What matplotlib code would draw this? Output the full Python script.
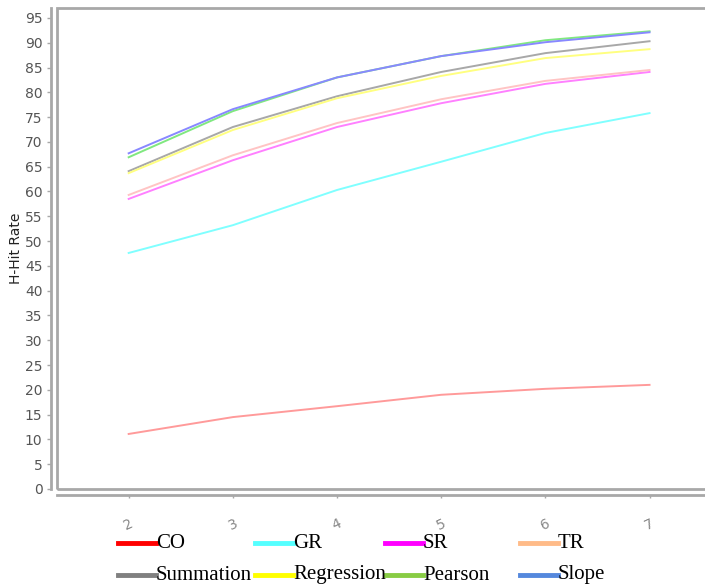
import matplotlib
matplotlib.use("Agg")
import matplotlib.pyplot as plt
from matplotlib.lines import Line2D
from matplotlib.patches import Rectangle

x_vals = [2, 3, 4, 5, 6, 7]
series_names = ["CO", "GR", "SR", "TR", "Summation", "Regression", "Pearson", "Slope"]
co = [11.1, 14.5, 16.7, 19.0, 20.2, 21.0]
gr = [47.6, 53.2, 60.3, 66.0, 71.8, 75.8]
sr = [58.5, 66.3, 73.0, 77.8, 81.7, 84.1]
tr = [59.3, 67.3, 73.8, 78.6, 82.3, 84.5]
summation = [64.1, 73.0, 79.2, 84.1, 87.9, 90.3]
regression = [63.7, 72.4, 78.8, 83.3, 86.9, 88.7]
pearson = [66.9, 76.2, 83.0, 87.3, 90.5, 92.3]
slope = [67.7, 76.6, 83.0, 87.3, 90.1, 92.1]
series_values = [co, gr, sr, tr, summation, regression, pearson, slope]
y_ticks = list(range(0, 100, 5))

line_colors = ["#ff9a9a", "#80ffff", "#ff80ff", "#ffc4c4", "#a8a8a8", "#ffff80", "#80e880", "#8888ff"]
legend_colors = ["#ff0000", "#55ffff", "#ff00ff", "#ffbb88", "#808080", "#ffff00", "#88cc44", "#5588dd"]

W, H = 705, 588
fig = plt.figure(figsize=(W / 100, H / 100), dpi=100)
ax = fig.add_axes([57/W, 99/H, 1 - 57/W + 0.01, (489-8)/H])

for vals, c in zip(series_values, line_colors):
    ax.plot(x_vals, vals, color=c, lw=1.4)

ax.set_xlim(1.312, 7.6)
ax.set_ylim(0, 97)
ax.set_yticks(y_ticks)
ax.set_xticks(x_vals)

gray = "#a8a8a8"
for s in ["right", "top"]:
    ax.spines[s].set_visible(False)
for s in ["left", "bottom"]:
    ax.spines[s].set_position(("outward", 4))
    ax.spines[s].set_color(gray)
    ax.spines[s].set_linewidth(2)

frame = Rectangle((0, 0), 1.2, 1, transform=ax.transAxes, fill=False,
                  edgecolor=gray, lw=2, clip_on=False)
ax.add_patch(frame)

ax.tick_params(axis="y", colors=gray, labelcolor="#555555", labelsize=10, length=3, width=1)
ax.tick_params(axis="x", colors=gray, labelcolor="#888888", labelsize=10, length=2, width=1, pad=14)
for lab in ax.get_xticklabels():
    lab.set_rotation(25)

ax.set_ylabel("H-Hit Rate", fontsize=10, color="#222222")
ax.yaxis.set_label_coords(-0.052, 0.5)

# legend: 2 rows x 4 columns, row-major, fixed cell positions
col_x = [118, 255, 385, 520]
row_y = [543, 575]
for i, (name, c) in enumerate(zip(series_names, legend_colors)):
    r, k = divmod(i, 4)
    x0 = col_x[k]
    y0 = row_y[r]
    fig.add_artist(Line2D([x0 / W, (x0 + 38) / W], [1 - y0 / H, 1 - y0 / H],
                          color=c, lw=3.5, transform=fig.transFigure))
    fig.text((x0 + 38) / W, 1 - y0 / H, name, family="Liberation Serif", fontsize=15,
             va="center", ha="left", color="black")

fig.savefig("out.png", dpi=100)
